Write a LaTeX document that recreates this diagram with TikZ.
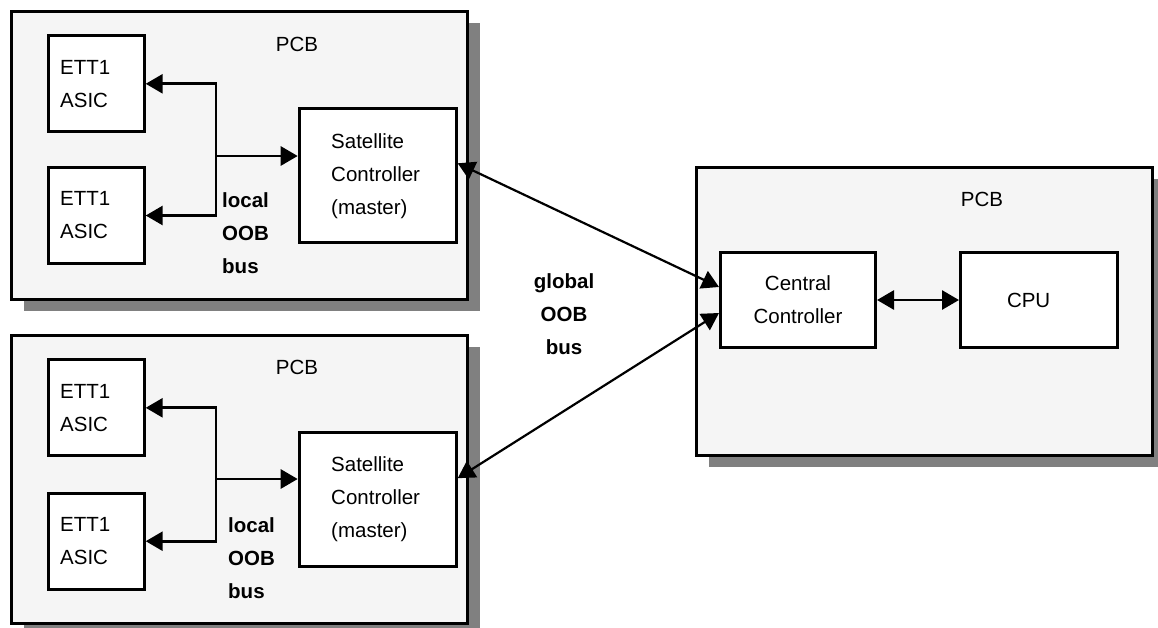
\documentclass[tikz,border=0pt]{standalone}
\usepackage{fontspec}
\setmainfont{Liberation Sans}
\usetikzlibrary{arrows.meta,shadows}
\definecolor{boardfill}{HTML}{F5F5F5}
\definecolor{shadowgray}{HTML}{808080}
\tikzset{
  bustip/.tip={Triangle[length=17pt,width=19pt]},
  board/.style={draw,fill=boardfill,line width=3pt,anchor=north west,inner sep=0pt,
    minimum width=456pt,minimum height=288pt,
    drop shadow={shadow xshift=12pt,shadow yshift=-11pt,fill=shadowgray,opacity=1}},
  chip/.style={draw,fill=white,line width=3pt,anchor=north west,align=left,inner ysep=0pt},
  ettbox/.style={chip,minimum height=96pt,text width=72pt,inner xsep=12pt},
  satbox/.style={chip,minimum height=134pt,text width=93pt,inner xsep=32pt},
  bus/.style={line width=2.8pt},
  gbus/.style={line width=2.2pt,bustip-bustip},
  lbl/.style={font=\fontsize{20.5}{33}\selectfont\bfseries,inner sep=0pt}
}
\begin{document}
\begin{tikzpicture}[x=1pt,y=-1pt,font=\fontsize{20.5}{33}\selectfont]
\useasboundingbox (0,0) rectangle (1158,627);
\node[board] (pcb1) at (10,10) {};
\node[board] (pcb2) at (10,334) {};
\node[board] (pcb3) at (695,166) {};
\node (pcb1lbl) at (297,44) {PCB};
\node (pcb2lbl) at (297,367) {PCB};
\node (pcb3lbl) at (982,199) {PCB};

\node[ettbox] (asic1a) at (46.7,34.3) {ETT1\\ASIC};
\node[ettbox] (asic1b) at (46.7,166) {ETT1\\ASIC};
\node[satbox] (sat1) at (297.7,107.3) {Satellite\\Controller\\(master)};
\node[ettbox] (asic2a) at (46.7,358.3) {ETT1\\ASIC};
\node[ettbox] (asic2b) at (46.7,491.7) {ETT1\\ASIC};
\node[satbox] (sat2) at (297.7,430.7) {Satellite\\Controller\\(master)};
\node[chip,align=center,minimum width=155pt,minimum height=95pt] (central) at (719,251) {Central\\Controller};
\node[chip,minimum height=95pt,text width=64pt,inner xsep=46.5pt] (cpu) at (959,251) {CPU};

\coordinate (j1) at (216,156);
\coordinate (j2) at (216,479);
\draw[bus,bustip-bustip] (asic1a.east) -- (asic1a.east -| j1) -- (asic1b.east -| j1) -- (asic1b.east);
\draw[bus,-bustip] (j1) -- (sat1.west |- j1);
\draw[bus,bustip-bustip] (asic2a.east) -- (asic2a.east -| j2) -- (asic2b.east -| j2) -- (asic2b.east);
\draw[bus,-bustip] (j2) -- (sat2.west |- j2);
\node[lbl,align=left,anchor=north west] (local1) at (222,192) {local\\OOB\\bus};
\node[lbl,align=left,anchor=north west] (local2) at (228,517) {local\\OOB\\bus};

\draw[gbus] ([yshift=12.5pt]sat1.east) -- ([yshift=13pt]central.west);
\draw[gbus] ([yshift=21pt]sat2.east) -- ([yshift=-13pt]central.west);
\draw[bus,bustip-bustip] (central) -- (cpu);
\node[lbl,align=center] (global) at (564,314) {global\\OOB\\bus};
\end{tikzpicture}
\end{document}
